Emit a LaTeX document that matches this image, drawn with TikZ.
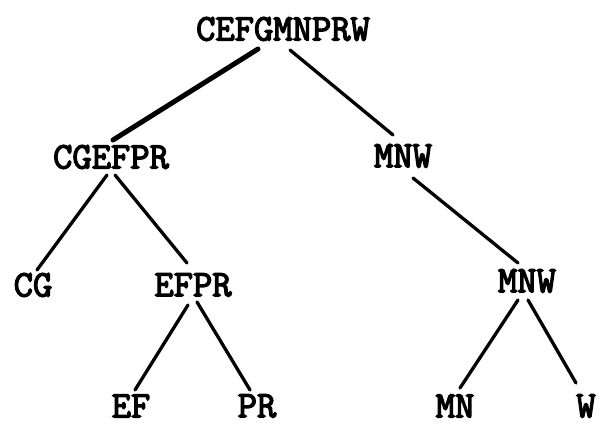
\documentclass[tikz,border=0pt]{standalone}
\usepackage{fontspec}
\newfontfamily\typewr{Latin Modern Mono}[FakeBold=3.5]
\usetikzlibrary{calc}
\begin{document}
\begin{tikzpicture}[x=1pt,y=-1pt,
  lab/.style={inner sep=0pt,font=\fontsize{37.5}{37.5}\selectfont\typewr},
  edge/.style={line width=3.3pt,line cap=round},
  thickedge/.style={line width=5pt,line cap=round}]
\useasboundingbox (0,0) rectangle (601,425);
\node[lab] (root) at (283,29) {CEFGMNPRW};
\node[lab] (cgefpr) at (111,157) {CGEFPR};
\node[lab] (mnwa) at (403,156) {MNW};
\node[lab] (cg) at (33,285) {CG};
\node[lab] (efpr) at (193,285) {EFPR};
\node[lab] (mnwb) at (527,281) {MNW};
\node[lab] (ef) at (131,406) {EF};
\node[lab] (pr) at (257,406) {PR};
\node[lab] (mn) at (455,406) {MN};
\node[lab] (w) at (586,406) {W};
\draw[thickedge] ($(root)+(-25,20)$) -- ($(cgefpr)+(2,-17)$);
\draw[edge] ($(root)+(7,21)$) -- ($(mnwa)+(-10,-21)$);
\draw[edge] ($(cgefpr)+(-4,18)$) -- ($(cg)+(4,-15)$);
\draw[edge] ($(cgefpr)+(4,18)$) -- ($(efpr)+(-6,-22)$);
\draw[edge] ($(mnwa)+(10,22)$) -- ($(mnwb)+(-9,-18)$);
\draw[edge] ($(efpr)+(-5,20)$) -- ($(ef)+(4,-16)$);
\draw[edge] ($(efpr)+(4,17)$) -- ($(pr)+(-7,-16)$);
\draw[edge] ($(mnwb)+(-9,19)$) -- ($(mn)+(5,-18)$);
\draw[edge] ($(mnwb)+(1,19)$) -- ($(w)+(-10,-23)$);
\end{tikzpicture}
\end{document}
